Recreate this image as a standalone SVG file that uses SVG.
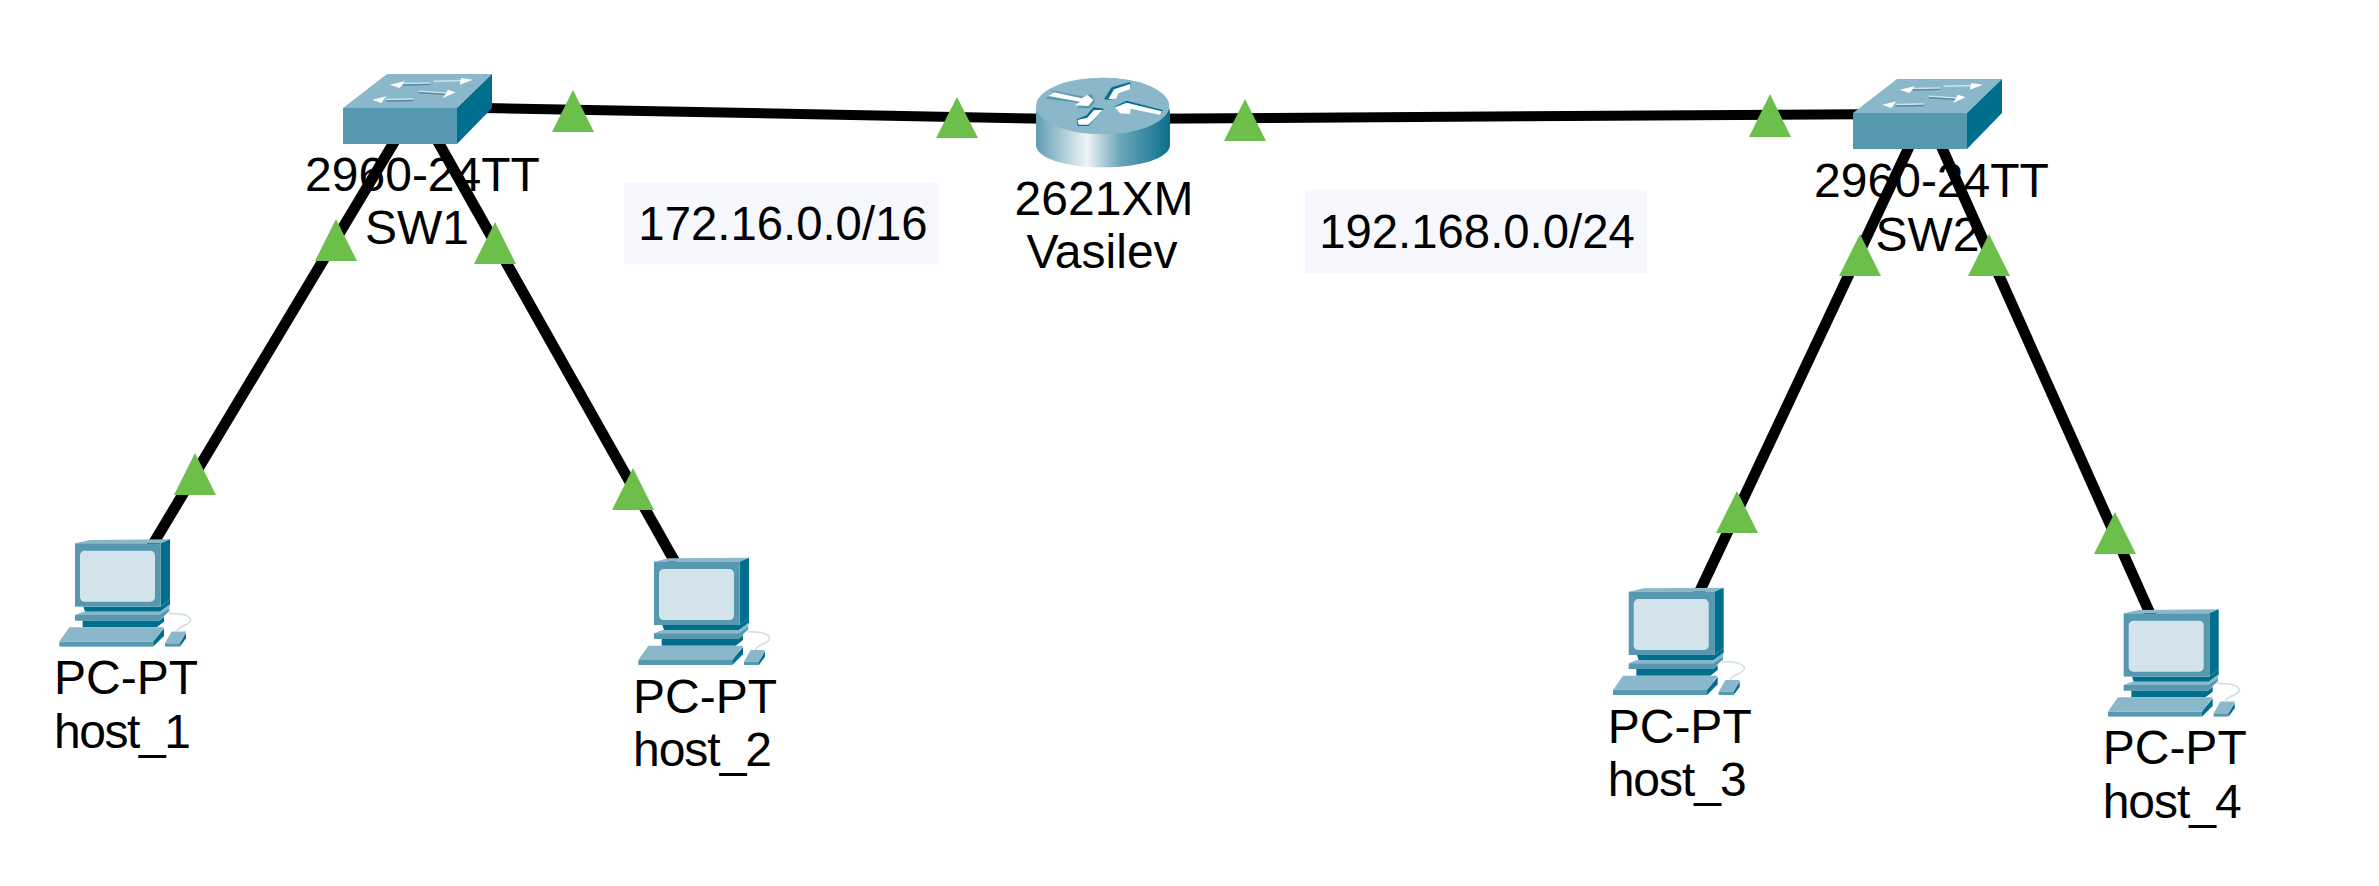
<svg xmlns="http://www.w3.org/2000/svg" xmlns:xlink="http://www.w3.org/1999/xlink" width="2379" height="886" viewBox="0 0 2379 886">
<style>
text{font-family:"Liberation Sans",Arial,sans-serif;font-size:48px;fill:#000}
.c{text-anchor:middle}
.n{font-size:47.3px}
.wire{stroke:#000;stroke-width:10;fill:none}
.diag{stroke-width:10.8}
.tri{fill:#6cbf4b}
.net{fill:#f6f8fe}
.top{fill:#8ab7c9}
.front{fill:#5698b0}
.side{fill:#006f8e}
.hi{fill:#fff}
.sh{stroke:#cfe2ea;stroke-width:1.6;fill:none}
.sd{stroke:#4f8ca3;stroke-width:1.4;fill:none}
</style>
<defs>
<linearGradient id="rg" x1="0" x2="1" y1="0" y2="0">
<stop offset="0" stop-color="#5f9db2"/>
<stop offset=".38" stop-color="#eef5f7"/>
<stop offset=".62" stop-color="#6fa7ba"/>
<stop offset="1" stop-color="#0b6f8c"/>
</linearGradient>
<g id="switch">
<polygon class="top" points="0,0 44,-34 149,-34 114,0"/>
<polygon class="side" points="114,0 149,-34 149,0 114,36"/>
<rect class="front" x="0" y="0" width="114" height="36"/>
<path class="sh" d="M60,-24.5 87,-25M90.7,-26.7 120,-27.5M76,-16.7 103,-15M43,-8.5 70.7,-9"/>
<path class="sd" d="M60,-23 87,-23.6M76,-15.3 103,-13.6M43,-7 70.7,-7.5"/>
<polygon class="hi" points="46.7,-23.3 61.7,-26.7 56.7,-20"/>
<polygon class="hi" points="130,-28.3 118.3,-30 116.7,-23.3"/>
<polygon class="hi" points="112.7,-15.7 105,-18.3 100,-10"/>
<polygon class="hi" points="29.3,-8.3 43.3,-11.7 38.3,-5"/>
</g>
<g id="pc" transform="scale(.3333) translate(-105,-100)">
<polygon class="top" points="105,100 150,90 390,88 362,100"/>
<polygon class="side" points="362,100 390,88 390,268 362,290"/>
<rect class="front" x="105" y="100" width="257" height="190"/>
<rect x="120" y="122" width="225" height="153" rx="14" fill="#d3e3ea"/>
<polygon class="side" points="130,290 362,290 390,268 390,285 360,305 135,305"/>
<polygon class="top" points="105,315 130,305 360,305 388,283 388,295 358,315"/>
<polygon class="front" points="105,315 358,315 388,295 388,303 358,332 105,332"/>
<polygon class="side" points="128,332 358,332 372,320 372,335 350,352 128,352"/>
<polygon class="top" points="58,395 88,352 372,352 340,395"/>
<rect class="front" x="58" y="395" width="282" height="15"/>
<polygon class="side" points="340,395 372,355 372,378 340,410"/>
<polygon class="top" points="375,400 395,365 438,365 420,400"/>
<rect class="front" x="375" y="400" width="45" height="10"/>
<polygon class="side" points="420,400 438,368 438,385 420,410"/>
<path d="M385,310C420,310 450,315 452,330C452,347 415,345 410,365" stroke="#cfe0e8" stroke-width="5" fill="none"/>
</g>
</defs>
<rect width="2379" height="886" fill="#fff"/>
<g id="connectors">
<line class="wire" x1="470" y1="107.7" x2="1103" y2="119.8"/>
<line class="wire" x1="1103" y1="119" x2="1900" y2="114"/>
<line class="wire diag" x1="405" y1="124" x2="150" y2="549"/>
<line class="wire diag" x1="428" y1="124" x2="675" y2="562"/>
<line class="wire diag" x1="1917" y1="130" x2="1697" y2="597"/>
<line class="wire diag" x1="1934" y1="130" x2="2152" y2="618"/>
</g>
<g id="net-172"><rect class="net" x="624" y="183" width="315" height="81"/><text class="c n" x="783" y="240">172.16.0.0/16</text></g>
<g id="net-192"><rect class="net" x="1305" y="190" width="342" height="83"/><text class="c n" x="1477" y="248">192.168.0.0/24</text></g>
<g id="SW1"><use xlink:href="#switch" href="#switch" transform="translate(343,108)"/><text class="c" x="422.5" y="191">2960-24TT</text><text class="c" x="417" y="244">SW1</text></g>
<g id="SW2"><use xlink:href="#switch" href="#switch" transform="translate(1853,113)"/><text class="c" x="1931.5" y="197">2960-24TT</text><text class="c" x="1927.5" y="251">SW2</text></g>
<g id="Vasilev">
<g transform="translate(980,50) scale(.3333)">
<path d="M168,190C168,130 260,83 368,83C478,83 570,130 570,190V285C570,325 480,352 368,352C258,352 168,325 168,285Z" fill="url(#rg)"/>
<ellipse class="top" cx="368" cy="168" rx="200" ry="85"/>
<polygon fill="#5e98ad" points="197,146 222,122 312,140 335,132 345,155 330,175 290,175 305,160"/>
<polygon class="hi" points="205,138 222,127 305,145 322,135 340,150 325,168 285,166 300,155"/>
<polygon class="side" points="372,148 395,112 450,96 452,106 415,120 392,150"/>
<polygon class="hi" points="385,148 402,118 450,102 450,118 415,130 408,146"/>
<polygon class="side" points="290,208 320,196 340,172 372,176 345,206 325,228 293,228"/>
<polygon class="hi" points="292,210 322,203 342,180 368,180 345,205 325,224 296,224"/>
<polygon class="side" points="402,170 440,152 548,180 545,188 452,172"/>
<polygon class="hi" points="405,172 440,158 545,184 540,194 452,176 450,192 420,190"/>
</g>
<text class="c" x="1104" y="215">2621XM</text><text class="c" x="1102" y="268">Vasilev</text></g>
<g id="host_1" transform="translate(75,543.3)"><use xlink:href="#pc" href="#pc"/><text x="-21" y="151">PC-PT</text><text x="-21" y="204.5" textLength="137" lengthAdjust="spacing">host_1</text></g>
<g id="host_2" transform="translate(654,561.7)"><use xlink:href="#pc" href="#pc"/><text x="-21" y="151">PC-PT</text><text x="-21" y="204.5" textLength="139" lengthAdjust="spacing">host_2</text></g>
<g id="host_3" transform="translate(1628.7,591.7)"><use xlink:href="#pc" href="#pc"/><text x="-21" y="151">PC-PT</text><text x="-21" y="204.5" textLength="139" lengthAdjust="spacing">host_3</text></g>
<g id="host_4" transform="translate(2123.7,613.3)"><use xlink:href="#pc" href="#pc"/><text x="-21" y="151">PC-PT</text><text x="-21" y="204.5" textLength="139" lengthAdjust="spacing">host_4</text></g>
<g id="link-lights">
<polygon class="tri" points="573,90 594,132 552,132"/>
<polygon class="tri" points="957,97 978,138 936,138"/>
<polygon class="tri" points="1245,99 1266,141 1224,141"/>
<polygon class="tri" points="1770,94 1791,137 1749,137"/>
<polygon class="tri" points="336,219 357,261 315,261"/>
<polygon class="tri" points="495,222 516,264 474,264"/>
<polygon class="tri" points="195,453 216,495 174,495"/>
<polygon class="tri" points="633,468 654,510 612,510"/>
<polygon class="tri" points="1860,234 1881,276 1839,276"/>
<polygon class="tri" points="1989,234 2010,276 1968,276"/>
<polygon class="tri" points="1737,491 1758,533 1716,533"/>
<polygon class="tri" points="2115,512 2136,554 2094,554"/>
</g>
</svg>
